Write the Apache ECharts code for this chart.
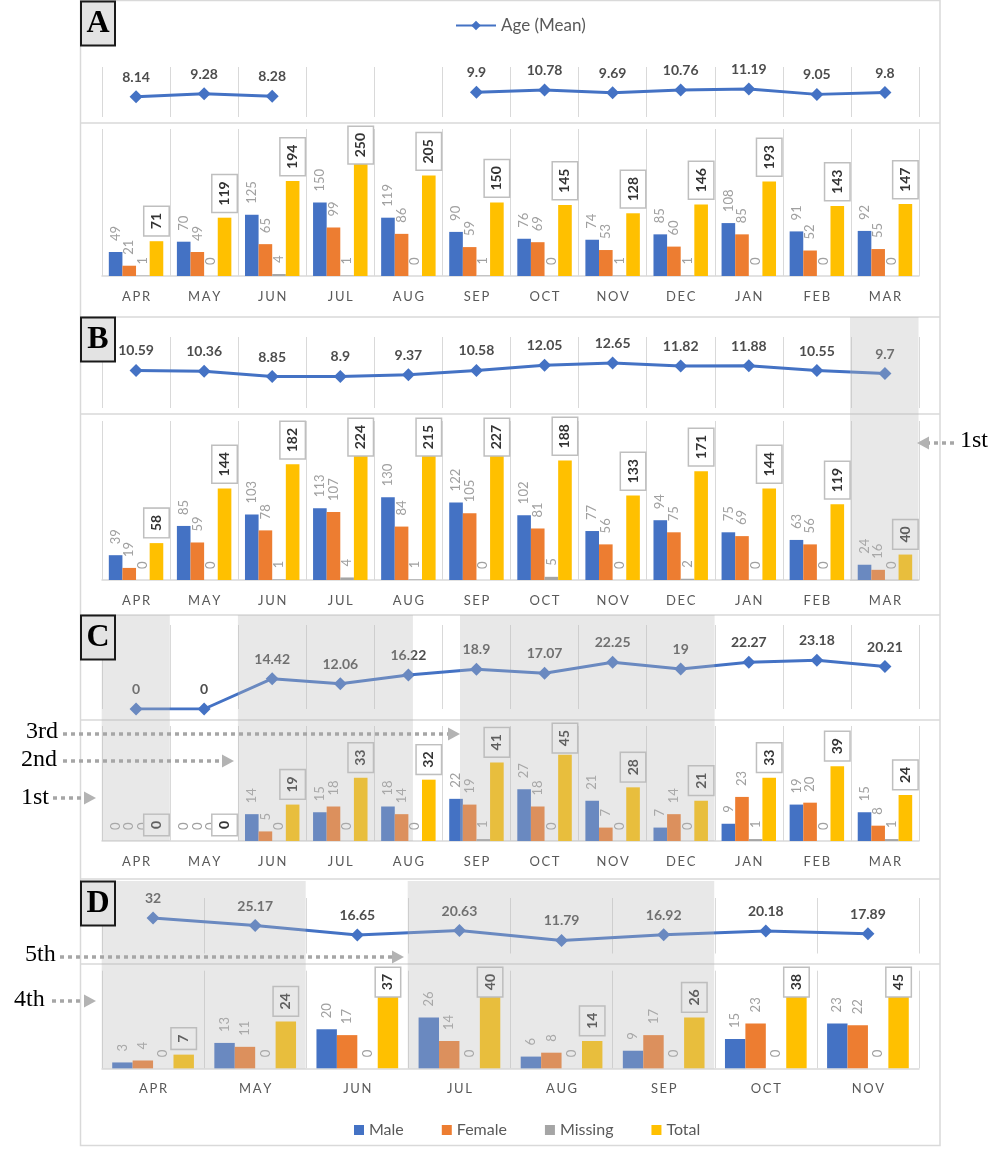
<!DOCTYPE html>
<html>
<head>
<meta charset="utf-8">
<script src="https://cdn.jsdelivr.net/npm/echarts@6/dist/echarts.min.js"></script>
<style>
html,body{margin:0;padding:0;background:#fff;}
#chart{width:1000px;height:1150px;}
</style>
</head>
<body>
<div id="chart"></div>
<script>
// ---------- DATA ----------
const monthsFull = ['APR','MAY','JUN','JUL','AUG','SEP','OCT','NOV','DEC','JAN','FEB','MAR'];
const monthsD = ['APR','MAY','JUN','JUL','AUG','SEP','OCT','NOV'];

const ageA = [8.14, 9.28, 8.28, null, null, 9.9, 10.78, 9.69, 10.76, 11.19, 9.05, 9.8];
const maleA = [49, 70, 125, 150, 119, 90, 76, 74, 85, 108, 91, 92];
const femaleA = [21, 49, 65, 99, 86, 59, 69, 53, 60, 85, 52, 55];
const missingA = [1, 0, 4, 1, 0, 1, 0, 1, 1, 0, 0, 0];
const totalA = [71, 119, 194, 250, 205, 150, 145, 128, 146, 193, 143, 147];

const ageB = [10.59, 10.36, 8.85, 8.9, 9.37, 10.58, 12.05, 12.65, 11.82, 11.88, 10.55, 9.7];
const maleB = [39, 85, 103, 113, 130, 122, 102, 77, 94, 75, 63, 24];
const femaleB = [19, 59, 78, 107, 84, 105, 81, 56, 75, 69, 56, 16];
const missingB = [0, 0, 1, 4, 1, 0, 5, 0, 2, 0, 0, 0];
const totalB = [58, 144, 182, 224, 215, 227, 188, 133, 171, 144, 119, 40];

const ageC = [0, 0, 14.42, 12.06, 16.22, 18.9, 17.07, 22.25, 19, 22.27, 23.18, 20.21];
const maleC = [0, 0, 14, 15, 18, 22, 27, 21, 7, 9, 19, 15];
const femaleC = [0, 0, 5, 18, 14, 19, 18, 7, 14, 23, 20, 8];
const missingC = [0, 0, 0, 0, 0, 1, 0, 0, 0, 1, 0, 1];
const totalC = [0, 0, 19, 33, 32, 41, 45, 28, 21, 33, 39, 24];

const ageD = [32, 25.17, 16.65, 20.63, 11.79, 16.92, 20.18, 17.89];
const maleD = [3, 13, 20, 26, 6, 9, 15, 23];
const femaleD = [4, 11, 17, 14, 8, 17, 23, 22];
const missingD = [0, 0, 0, 0, 0, 0, 0, 0];
const totalD = [7, 24, 37, 40, 14, 26, 38, 45];

const lineAxisMax = [20, 20, 40, 50];
const barAxisMax = [300, 250, 60, 50];

// ---------- LAYOUT / STYLE ----------
const FONT = 'Lato, "Open Sans", sans-serif';
const SERIF = '"Liberation Serif", "DejaVu Serif", serif';
const C_MALE = '#4472C4', C_FEMALE = '#ED7D31', C_MISS = '#A5A5A5', C_TOTAL = '#FFC000';
const GRID_L = 102, GRID_R = 81;

const panels = [
  {cats: monthsFull, age: ageA, male: maleA, female: femaleA, missing: missingA, total: totalA,
   lineTop: 67, lineH: 50, barTop: 129, barH: 147, clamp: 124},
  {cats: monthsFull, age: ageB, male: maleB, female: femaleB, missing: missingB, total: totalB,
   lineTop: 337, lineH: 71, barTop: 421, barH: 159, clamp: 416},
  {cats: monthsFull, age: ageC, male: maleC, female: femaleC, missing: missingC, total: totalC,
   lineTop: 625, lineH: 84, barTop: 726, barH: 115, clamp: 721},
  {cats: monthsD, age: ageD, male: maleD, female: femaleD, missing: missingD, total: totalD,
   lineTop: 898, lineH: 55.5, barTop: 970.7, barH: 97.6, clamp: 965}
];

const grids = [], xAxes = [], yAxes = [], series = [];
const splitLine = {show: true, lineStyle: {color: '#d9d9d9', width: 1}};

panels.forEach((p, i) => {
  const gl = 2 * i, gb = 2 * i + 1;
  grids.push({left: GRID_L, right: GRID_R, top: p.lineTop, height: p.lineH});
  grids.push({left: GRID_L, right: GRID_R, top: p.barTop, height: p.barH});
  xAxes.push({type: 'category', gridIndex: gl, data: p.cats, boundaryGap: true,
    axisLine: {show: false}, axisTick: {show: false}, axisLabel: {show: false}, splitLine: splitLine});
  xAxes.push({type: 'category', gridIndex: gb, data: p.cats, boundaryGap: true,
    axisLine: {show: true, lineStyle: {color: '#d9d9d9', width: 1.5}}, axisTick: {show: false},
    splitLine: splitLine,
    axisLabel: {show: true, color: '#595959', fontFamily: FONT, fontSize: 13, margin: 14,
      formatter: v => v.split('').join('\u2009')}});
  yAxes.push({type: 'value', gridIndex: gl, min: 0, max: lineAxisMax[i], show: false, splitLine: {show: false}});
  yAxes.push({type: 'value', gridIndex: gb, min: 0, max: barAxisMax[i], show: false, splitLine: {show: false}});

  series.push({
    name: 'Age (Mean)', type: 'line', xAxisIndex: gl, yAxisIndex: gl, data: p.age,
    connectNulls: false, symbol: 'diamond', symbolSize: 13,
    lineStyle: {color: C_MALE, width: 3}, itemStyle: {color: C_MALE},
    label: {show: true, position: 'top', distance: 6, color: '#4d4d4d', fontFamily: FONT,
      fontSize: 14, fontWeight: 'bold'}
  });

  const smallLabel = {show: true, position: 'top', distance: 11, rotate: 90, align: 'left',
    verticalAlign: 'middle', color: '#a0a0a0', fontFamily: FONT, fontSize: 13};
  const mk = (name, data, color) => ({
    name: name, type: 'bar', xAxisIndex: gb, yAxisIndex: gb, data: data,
    barGap: '0%', barCategoryGap: '20%', itemStyle: {color: color}, label: smallLabel
  });
  series.push(mk('Male', p.male, C_MALE));
  series.push(mk('Female', p.female, C_FEMALE));
  series.push(mk('Missing', p.missing, C_MISS));
  const tot = mk('Total', p.total, C_TOTAL);
  tot.label = {show: true, position: 'top', distance: 6, rotate: 90, align: 'left',
    verticalAlign: 'middle', color: '#333333', fontFamily: FONT, fontSize: 14, fontWeight: 'bold',
    backgroundColor: '#ffffff', borderColor: '#bfbfbf', borderWidth: 1.5, padding: [5, 6, 5, 6]};
  const clampY = p.clamp;
  tot.labelLayout = function (params) {
    const r = params.labelRect;
    if (r && r.y < clampY) return {y: clampY + r.height};
    return {};
  };
  series.push(tot);
});

// ---------- GRAPHIC DECORATION ----------
const G = [];
const LINE_C = '#d9d9d9';
G.push({type: 'rect', z: 0, shape: {x: 80.5, y: 0.5, width: 859.5, height: 1145}, style: {fill: 'none', stroke: LINE_C, lineWidth: 1.5}});
[123, 317, 414, 615, 720, 879, 964].forEach(y => {
  G.push({type: 'line', z: 0, shape: {x1: 80.5, y1: y, x2: 940, y2: y}, style: {stroke: LINE_C, lineWidth: 1.5}});
});

// shaded wave periods (semi-transparent overlay)
const SHADE = 'rgba(185,185,185,0.33)';
[[850, 317, 68.5, 264],
 [101.7, 615, 68.1, 226], [237.9, 615, 175, 226], [460, 615, 254.6, 226],
 [101.7, 881, 204, 187.5], [407.7, 881, 306.5, 187.5]
].forEach(r => {
  G.push({type: 'rect', z: 100, shape: {x: r[0], y: r[1], width: r[2], height: r[3]}, style: {fill: SHADE}});
});

// panel letters
[['A', 1], ['B', 317], ['C', 615], ['D', 881]].forEach(([t, y]) => {
  G.push({type: 'rect', z: 200, shape: {x: 81, y: y + 0.5, width: 34, height: 44}, style: {fill: '#e3e3e3', stroke: '#1a1a1a', lineWidth: 2}});
  G.push({type: 'text', z: 201, x: 98, y: y + 23, style: {text: t, fill: '#000', font: 'bold 32px ' + SERIF, align: 'center', verticalAlign: 'middle'}});
});

// wave annotations with dotted arrows
function arrow(x1, x2, y) {
  const dir = x2 > x1 ? 1 : -1;
  G.push({type: 'line', z: 150, shape: {x1: x1, y1: y, x2: x2 - dir * 10, y2: y},
    style: {stroke: '#a6a6a6', lineWidth: 3.5, lineDash: [4, 4]}});
  G.push({type: 'polygon', z: 150, shape: {points: [[x2, y], [x2 - dir * 12, y - 6.5], [x2 - dir * 12, y + 6.5]]},
    style: {fill: '#b3b3b3'}});
}
function note(t, x, y) {
  G.push({type: 'text', z: 150, x: x, y: y, style: {text: t, fill: '#000', font: '24px ' + SERIF, align: 'left', verticalAlign: 'middle'}});
}
note('1st', 960, 441); arrow(954, 917, 443);
note('3rd', 26, 732); arrow(63, 460, 734);
note('2nd', 21, 760); arrow(63, 234, 761);
note('1st', 21, 798); arrow(53, 96, 798);
note('5th', 25, 955); arrow(60, 404, 957);
note('4th', 14, 1000); arrow(52, 96, 1001);

const chart = echarts.init(document.getElementById('chart'), null, {renderer: 'canvas'});
chart.setOption({
  animation: false,
  backgroundColor: '#ffffff',
  textStyle: {fontFamily: FONT},
  legend: [
    {data: ['Age (Mean)'], left: 450, top: 12, itemWidth: 40, itemHeight: 12, itemGap: 10,
     textStyle: {color: '#595959', fontSize: 17, fontFamily: FONT}},
    {data: ['Male', 'Female', 'Missing', 'Total'], left: 349, top: 1117, icon: 'rect',
     itemWidth: 10, itemHeight: 10, itemGap: 38,
     textStyle: {color: '#595959', fontSize: 16, fontFamily: FONT}}
  ],
  grid: grids,
  xAxis: xAxes,
  yAxis: yAxes,
  series: series,
  graphic: G
});
</script>
</body>
</html>
